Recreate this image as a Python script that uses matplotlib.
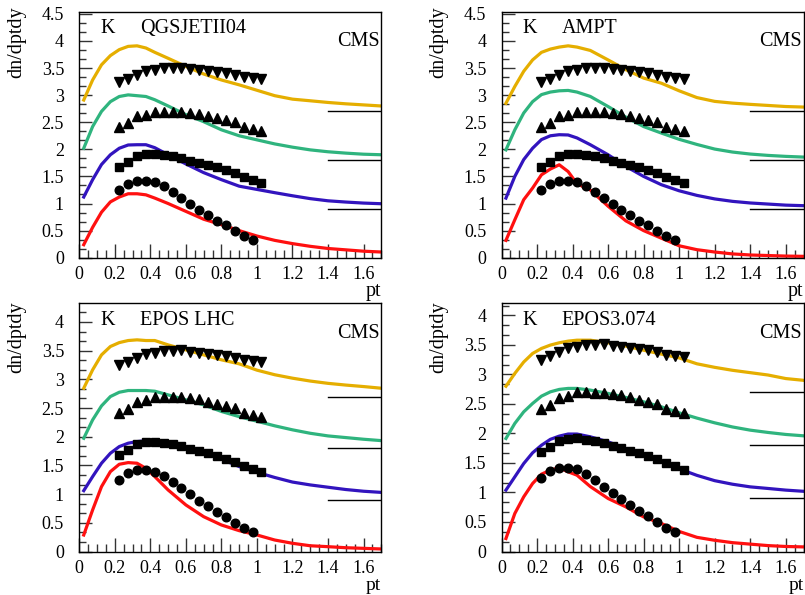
import matplotlib
matplotlib.use("Agg")
import matplotlib.pyplot as plt
from matplotlib.ticker import MultipleLocator, FuncFormatter

plt.rcParams['font.family'] = ['Liberation Serif', 'DejaVu Serif']

# ---------------- data (CMS kaon points, offset series) ----------------
x_circ = [0.225, 0.275, 0.325, 0.375, 0.425, 0.475, 0.525, 0.575, 0.625, 0.675,
          0.725, 0.775, 0.825, 0.875, 0.925, 0.975]
y_circ = [1.25, 1.36, 1.42, 1.42, 1.39, 1.315, 1.21, 1.10, 0.997, 0.885,
          0.785, 0.685, 0.595, 0.50, 0.405, 0.335]

x_data = [0.225, 0.275, 0.325, 0.375, 0.425, 0.475, 0.525, 0.575, 0.625, 0.675,
          0.725, 0.775, 0.825, 0.875, 0.925, 0.975, 1.025]
y_sq = [1.683, 1.775, 1.872, 1.913, 1.916, 1.892, 1.868, 1.845, 1.793, 1.745,
        1.708, 1.668, 1.62, 1.566, 1.498, 1.443, 1.378]
y_up = [2.418, 2.489, 2.609, 2.642, 2.695, 2.697, 2.688, 2.685, 2.667, 2.651,
        2.612, 2.575, 2.541, 2.505, 2.421, 2.378, 2.341]
y_dn = [3.243, 3.304, 3.378, 3.445, 3.467, 3.497, 3.501, 3.51, 3.483, 3.467,
        3.446, 3.424, 3.408, 3.372, 3.337, 3.314, 3.298]

# offset reference lines
ref_levels = [0.9, 1.8, 2.7]
ref_x = [1.4, 1.7]

# ---------------- model curves ----------------
x_model = [0.025, 0.075, 0.125, 0.175, 0.225, 0.275, 0.325, 0.375, 0.425, 0.5,
           0.6, 0.7, 0.8, 0.9, 1.0, 1.1, 1.2, 1.3, 1.4, 1.5, 1.6, 1.7]

qgs_red = [0.24, 0.56, 0.84, 1.03, 1.12, 1.18, 1.18, 1.16, 1.10, 1.0, 0.855, 0.71,
           0.61, 0.50, 0.40, 0.32, 0.26, 0.21, 0.17, 0.145, 0.12, 0.105]
qgs_blue = [1.12, 1.44, 1.72, 1.90, 2.02, 2.08, 2.085, 2.085, 2.03, 1.90, 1.73, 1.57,
            1.44, 1.32, 1.26, 1.20, 1.143, 1.09, 1.05, 1.027, 1.008, 0.996]
qgs_green = [2.02, 2.42, 2.70, 2.88, 2.975, 3.005, 2.99, 2.975, 2.915, 2.80, 2.64, 2.51,
             2.36, 2.25, 2.175, 2.10, 2.04, 1.99, 1.955, 1.93, 1.91, 1.90]
qgs_orange = [2.91, 3.28, 3.56, 3.73, 3.84, 3.90, 3.91, 3.87, 3.79, 3.68, 3.53, 3.39,
              3.28, 3.19, 3.09, 2.99, 2.926, 2.896, 2.865, 2.84, 2.82, 2.80]

ampt_red = [0.32, 0.70, 1.07, 1.285, 1.53, 1.636, 1.715, 1.59, 1.365, 1.25, 0.95, 0.68,
            0.50, 0.36, 0.22, 0.148, 0.105, 0.07, 0.05, 0.04, 0.03, 0.025]
ampt_blue = [1.10, 1.50, 1.81, 2.02, 2.18, 2.25, 2.27, 2.265, 2.21, 2.085, 1.90, 1.685,
             1.50, 1.347, 1.235, 1.15, 1.085, 1.04, 1.01, 0.99, 0.97, 0.96]
ampt_green = [1.99, 2.36, 2.67, 2.88, 3.01, 3.057, 3.08, 3.087, 3.057, 2.976, 2.79, 2.595,
              2.42, 2.30, 2.185, 2.09, 2.005, 1.95, 1.913, 1.888, 1.87, 1.857]
ampt_orange = [2.85, 3.16, 3.44, 3.65, 3.79, 3.85, 3.887, 3.91, 3.887, 3.825, 3.65, 3.47,
               3.315, 3.22, 3.08, 2.955, 2.885, 2.853, 2.83, 2.81, 2.79, 2.78]

eposlhc_red = [0.288, 0.724, 1.13, 1.392, 1.52, 1.549, 1.538, 1.45, 1.305, 1.072, 0.811,
               0.607, 0.462, 0.363, 0.288, 0.20, 0.143, 0.10, 0.084, 0.066, 0.055, 0.044]
eposlhc_blue = [1.06, 1.305, 1.538, 1.712, 1.828, 1.887, 1.915, 1.93, 1.93, 1.89, 1.82,
                1.73, 1.61, 1.48, 1.38, 1.29, 1.21, 1.16, 1.12, 1.08, 1.05, 1.03]
eposlhc_green = [1.973, 2.293, 2.537, 2.70, 2.775, 2.805, 2.805, 2.805, 2.793, 2.729, 2.642,
                 2.555, 2.44, 2.35, 2.27, 2.19, 2.12, 2.06, 2.014, 1.985, 1.956, 1.932]
eposlhc_orange = [2.845, 3.165, 3.426, 3.572, 3.64, 3.676, 3.688, 3.676, 3.676, 3.60, 3.513,
                  3.426, 3.34, 3.27, 3.16, 3.08, 3.02, 2.97, 2.93, 2.90, 2.874, 2.845]

epos3_red = [0.22, 0.644, 0.926, 1.152, 1.31, 1.378, 1.417, 1.35, 1.293, 1.10, 0.898,
             0.756, 0.586, 0.475, 0.34, 0.24, 0.19, 0.15, 0.125, 0.10, 0.085, 0.078]
epos3_blue = [1.04, 1.265, 1.49, 1.672, 1.80, 1.90, 1.955, 1.99, 1.99, 1.943, 1.858,
              1.745, 1.632, 1.52, 1.40, 1.29, 1.20, 1.14, 1.095, 1.068, 1.04, 1.02]
epos3_green = [1.915, 2.17, 2.366, 2.508, 2.632, 2.705, 2.746, 2.763, 2.763, 2.734, 2.678,
               2.61, 2.536, 2.451, 2.35, 2.26, 2.18, 2.11, 2.056, 2.017, 1.983, 1.96]
epos3_orange = [2.80, 3.017, 3.21, 3.355, 3.44, 3.497, 3.536, 3.564, 3.58, 3.58, 3.536,
                3.48, 3.41, 3.344, 3.28, 3.18, 3.12, 3.07, 3.03, 2.99, 2.93, 2.90]

models = ["QGSJETII04", "AMPT", "EPOS LHC", "EPOS3.074"]
curves = {
    "QGSJETII04": [qgs_red, qgs_blue, qgs_green, qgs_orange],
    "AMPT": [ampt_red, ampt_blue, ampt_green, ampt_orange],
    "EPOS LHC": [eposlhc_red, eposlhc_blue, eposlhc_green, eposlhc_orange],
    "EPOS3.074": [epos3_red, epos3_blue, epos3_green, epos3_orange],
}
curve_colors = ["#ff1010", "#3214be", "#2fb47e", "#e5ae00"]
ymax = {"QGSJETII04": 4.54, "AMPT": 4.54, "EPOS LHC": 4.33, "EPOS3.074": 4.21}

# ---------------- layout ----------------
W, H = 805, 595
fig = plt.figure(figsize=(W / 100, H / 100), dpi=100)
positions = {
    "QGSJETII04": [79.3 / W, 1 - 257.7 / H, 302 / W, 246 / H],
    "AMPT": [501.5 / W, 1 - 257.7 / H, 302 / W, 246 / H],
    "EPOS LHC": [79.3 / W, 1 - 551.5 / H, 302 / W, 248.5 / H],
    "EPOS3.074": [501.5 / W, 1 - 551.5 / H, 302 / W, 248.5 / H],
}

fs = 13
tfs = 14.5
for m in models:
    ax = fig.add_axes(positions[m])
    for yv, c in zip(curves[m], curve_colors):
        ax.plot(x_model, yv, color=c, lw=2.3, solid_joinstyle='round', zorder=2)
    for lv in ref_levels:
        ax.plot(ref_x, [lv, lv], color='black', lw=1.0, zorder=2)
    ax.plot(x_circ, y_circ, 'o', color='black', ms=6.2, zorder=3)
    ax.plot(x_data, y_sq, 's', color='black', ms=5.7, zorder=3)
    ax.plot(x_data, y_up, '^', color='black', ms=6.8, zorder=3)
    ax.plot(x_data, y_dn, 'v', color='black', ms=6.8, zorder=3)

    ax.set_xlim(0, 1.7)
    ax.set_ylim(0, ymax[m])
    ax.xaxis.set_major_locator(MultipleLocator(0.2))
    ax.xaxis.set_minor_locator(MultipleLocator(0.05))
    ax.yaxis.set_major_locator(MultipleLocator(0.5))
    ax.yaxis.set_minor_locator(MultipleLocator(0.5 / 3))
    fmt = FuncFormatter(lambda v, p: ("%g" % round(v, 2)) if v < 1.65 else "")
    ax.xaxis.set_major_formatter(fmt)
    ax.yaxis.set_major_formatter(FuncFormatter(lambda v, p: "%g" % round(v, 2)))
    ax.tick_params(which='both', direction='in', top=False, right=False,
                   labelsize=fs, width=1.0, color='#333333')
    ax.tick_params(axis='x', which='major', length=10, pad=6)
    ax.tick_params(axis='x', which='minor', length=5.5)
    ax.tick_params(axis='y', which='major', length=9, pad=11)
    ax.tick_params(axis='y', which='minor', length=5)
    for sp in ax.spines.values():
        sp.set_linewidth(1.0)

    ax.text(0.07, 0.93, "K", transform=ax.transAxes, fontsize=tfs,
            ha='left', va='center')
    ax.text(0.20, 0.93, m, transform=ax.transAxes, fontsize=tfs,
            ha='left', va='center')
    ax.text(0.995, 0.877, "CMS", transform=ax.transAxes, fontsize=tfs,
            ha='right', va='center')
    top_row = m in ("QGSJETII04", "AMPT")
    ax.text(1.0, -0.155, "pt", transform=ax.transAxes,
            fontsize=tfs if top_row else 14, ha='right', va='baseline')
    ax.text(-0.208, 1.02 if top_row else 1.005, "dn/dptdy", transform=ax.transAxes,
            fontsize=tfs, rotation=90, ha='center', va='top')

fig.savefig("out.png", dpi=100)
